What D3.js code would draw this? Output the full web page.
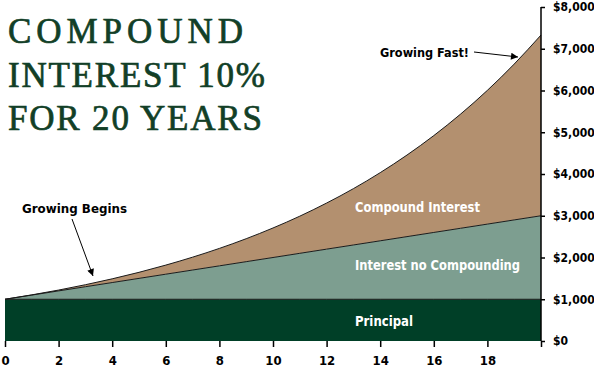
<!DOCTYPE html>
<html>
<head>
<meta charset="utf-8">
<script src="https://cdn.jsdelivr.net/npm/d3@7"></script>
<style>
  body { margin: 0; background: #fff; }
  svg text { font-family: "Liberation Sans Narrow", "DejaVu Sans Condensed", sans-serif; font-weight: bold; font-stretch: condensed; }
</style>
</head>
<body>
<div id="content"></div>
<script>
// dimensiones
var width = 594;
var height = 370;

// datos
var years = [0, 1, 2, 3, 4, 5, 6, 7, 8, 9, 10, 11, 12, 13, 14, 15, 16, 17, 18, 19, 20];
var principal = [1000, 1000, 1000, 1000, 1000, 1000, 1000, 1000, 1000, 1000, 1000,
  1000, 1000, 1000, 1000, 1000, 1000, 1000, 1000, 1000, 1000];
var simple = [1000, 1100, 1200, 1300, 1400, 1500, 1600, 1700, 1800, 1900, 2000,
  2100, 2200, 2300, 2400, 2500, 2600, 2700, 2800, 2900, 3000];
var compound = [1000, 1105, 1220, 1348, 1489, 1645, 1818, 2008, 2218, 2450, 2707,
  2990, 3304, 3649, 4032, 4454, 4920, 5435, 6004, 6633, 7328];
var xTicks = [0, 2, 4, 6, 8, 10, 12, 14, 16, 18, 20];
var yTicks = [0, 1000, 2000, 3000, 4000, 5000, 6000, 7000, 8000];
var titleLines = ["COMPOUND", "INTEREST 10%", "FOR 20 YEARS"];

var data = years.map(function(t, i) {
  return { t: t, p: principal[i], s: simple[i], c: compound[i] };
});

var svg = d3.select("#content")
  .append("svg")
  .attr("width", width)
  .attr("height", height);

var x = d3.scaleLinear().domain([0, 20]).range([5, 541]);
var y = d3.scaleLinear().domain([0, 8000]).range([341, 7]);

var curve = d3.curveMonotoneX;

// areas
svg.append("path")
  .datum(data)
  .attr("fill", "#b3906f")
  .attr("d", d3.area().curve(curve)
    .x(function(d) { return x(d.t); })
    .y0(function(d) { return y(d.s); })
    .y1(function(d) { return y(d.c); }));

svg.append("path")
  .datum(data)
  .attr("fill", "#7d9e90")
  .attr("d", d3.area().curve(curve)
    .x(function(d) { return x(d.t); })
    .y0(function(d) { return y(d.p); })
    .y1(function(d) { return y(d.s); }));

svg.append("path")
  .datum(data)
  .attr("fill", "#003f27")
  .attr("d", d3.area().curve(curve)
    .x(function(d) { return x(d.t); })
    .y0(y(0))
    .y1(function(d) { return y(d.p); }));

// lineas de borde
["c", "s", "p"].forEach(function(k) {
  svg.append("path")
    .datum(data)
    .attr("fill", "none")
    .attr("stroke", "#1a1a1a")
    .attr("stroke-width", 1)
    .attr("d", d3.line().curve(curve)
      .x(function(d) { return x(d.t); })
      .y(function(d) { return y(d[k]); }));
});

// ejes
var xAxis = svg.append("g")
  .attr("transform", "translate(0," + y(0) + ")")
  .call(d3.axisBottom(x)
    .tickValues(xTicks)
    .tickSize(6)
    .tickPadding(9)
    .tickFormat(function(d) { return d === 20 ? "" : d; }));
xAxis.select(".domain").remove();
xAxis.selectAll("line").attr("stroke", "#000").attr("stroke-width", 1.5);
xAxis.selectAll("text").attr("fill", "#000").style("font-size", "13px");

var yAxis = svg.append("g")
  .attr("transform", "translate(" + x(20) + ",0)")
  .call(d3.axisRight(y)
    .tickValues(yTicks)
    .tickSize(4)
    .tickPadding(8)
    .tickFormat(function(d) { return "$" + d3.format(",")(d); }));
yAxis.select(".domain").attr("stroke", "#000").attr("stroke-width", 1.5)
  .attr("d", "M0," + y(8000) + "V" + y(0));
yAxis.selectAll("line").attr("stroke", "#000").attr("stroke-width", 1.5);
yAxis.selectAll("text").attr("fill", "#000").style("font-size", "12px");

// titulo
var titleWidths = [235, 257, 254];
svg.append("g")
  .selectAll("text")
  .data(titleLines)
  .enter().append("text")
  .attr("x", 8)
  .attr("y", function(d, i) { return 43 + i * 43.5; })
  .attr("textLength", function(d, i) { return titleWidths[i]; })
  .attr("lengthAdjust", "spacing")
  .style("font-family", "'Liberation Serif', 'DejaVu Serif', serif")
  .style("font-weight", "normal")
  .style("font-stretch", "normal")
  .style("font-size", "35px")
  .attr("fill", "#123f27")
  .attr("stroke", "#123f27")
  .attr("stroke-width", 0.7)
  .text(function(d) { return d; });

// etiquetas de series
var labels = [
  { text: "Compound Interest", y: 212, w: 125 },
  { text: "Interest no Compounding", y: 270, w: 165 },
  { text: "Principal", y: 326, w: 58 }
];
svg.append("g")
  .selectAll("text")
  .data(labels)
  .enter().append("text")
  .attr("x", 355)
  .attr("y", function(d) { return d.y; })
  .attr("textLength", function(d) { return d.w; })
  .attr("lengthAdjust", "spacingAndGlyphs")
  .attr("fill", "#fff")
  .style("font-size", "14px")
  .text(function(d) { return d.text; });

// anotaciones
svg.append("defs").append("marker")
  .attr("id", "arrow")
  .attr("viewBox", "0 0 10 10")
  .attr("refX", 10)
  .attr("refY", 5)
  .attr("markerWidth", 9)
  .attr("markerHeight", 7)
  .attr("markerUnits", "userSpaceOnUse")
  .attr("orient", "auto")
  .append("path")
  .attr("d", "M0,0L10,5L0,10Z")
  .attr("fill", "#000");

svg.append("text")
  .attr("x", 380)
  .attr("y", 57)
  .attr("textLength", 89)
  .attr("lengthAdjust", "spacingAndGlyphs")
  .attr("fill", "#000")
  .style("font-size", "13px")
  .text("Growing Fast!");
svg.append("line")
  .attr("x1", 474).attr("y1", 52)
  .attr("x2", 518).attr("y2", 57)
  .attr("stroke", "#000")
  .attr("stroke-width", 1)
  .attr("marker-end", "url(#arrow)");

svg.append("text")
  .attr("x", 22)
  .attr("y", 213)
  .attr("textLength", 105)
  .attr("lengthAdjust", "spacingAndGlyphs")
  .attr("fill", "#000")
  .style("font-size", "13px")
  .text("Growing Begins");
svg.append("line")
  .attr("x1", 72).attr("y1", 219)
  .attr("x2", 93).attr("y2", 276)
  .attr("stroke", "#000")
  .attr("stroke-width", 1)
  .attr("marker-end", "url(#arrow)");
</script>
</body>
</html>
